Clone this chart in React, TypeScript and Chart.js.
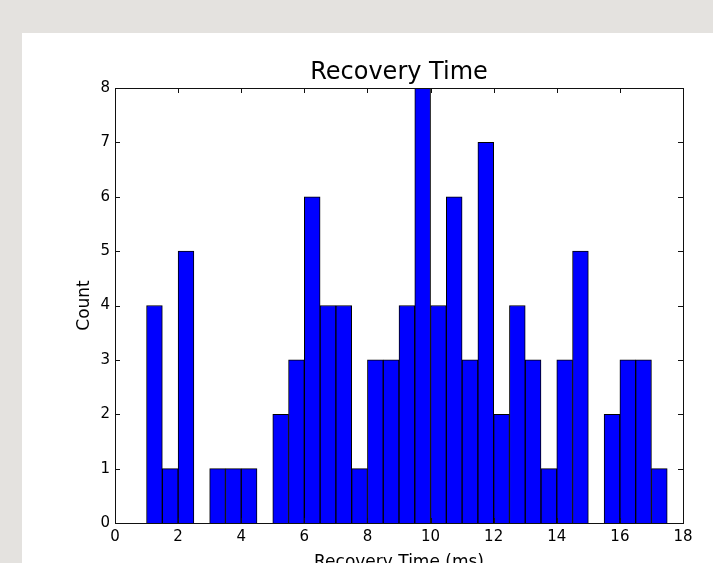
import React, { useEffect, useRef } from "react";
import { Chart, registerables } from "chart.js";

Chart.register(...registerables);

// Histogram bins (bin centers, 0.5 ms wide) and counts
const binCenters = [
  0.25, 0.75, 1.25, 1.75, 2.25, 2.75, 3.25, 3.75, 4.25, 4.75,
  5.25, 5.75, 6.25, 6.75, 7.25, 7.75, 8.25, 8.75, 9.25, 9.75,
  10.25, 10.75, 11.25, 11.75, 12.25, 12.75, 13.25, 13.75, 14.25, 14.75,
  15.25, 15.75, 16.25, 16.75, 17.25,
];
const counts = [
  0, 0, 4, 1, 5, 0, 1, 1, 1, 0,
  2, 3, 6, 4, 4, 1, 3, 3, 4, 8,
  4, 6, 3, 7, 2, 4, 3, 1, 3, 5,
  0, 2, 3, 3, 1,
];
const xTicks = [0, 2, 4, 6, 8, 10, 12, 14, 16, 18];
const yTicks = [0, 1, 2, 3, 4, 5, 6, 7, 8];

const chartTitle = "Recovery Time";
const xLabel = "Recovery Time (ms)";
const yLabel = "Count";

const FONT = "'DejaVu Sans', sans-serif";
const CANVAS_W = 713;
const CANVAS_H = 580;

const framePlugin = {
  id: "mplFrame",
  afterDatasetsDraw(chart: any) {
    const { ctx, chartArea, scales } = chart;
    const { left, right, top, bottom } = chartArea;
    const tl = 5;
    ctx.save();
    ctx.strokeStyle = "#111";
    ctx.lineWidth = 1;
    ctx.beginPath();
    for (const v of xTicks) {
      const px = Math.round(scales.x.getPixelForValue(v)) + 0.5;
      ctx.moveTo(px, bottom);
      ctx.lineTo(px, bottom - tl);
      ctx.moveTo(px, top);
      ctx.lineTo(px, top + tl);
    }
    for (const v of yTicks) {
      const py = Math.round(scales.y.getPixelForValue(v)) + 0.5;
      ctx.moveTo(left, py);
      ctx.lineTo(left + tl, py);
      ctx.moveTo(right, py);
      ctx.lineTo(right - tl, py);
    }
    ctx.stroke();
    ctx.strokeRect(
      Math.round(left) + 0.5,
      Math.round(top) + 0.5,
      Math.round(right - left),
      Math.round(bottom - top)
    );
    ctx.restore();
  },
};

export default function App() {
  const canvasRef = useRef<HTMLCanvasElement | null>(null);

  useEffect(() => {
    if (!canvasRef.current) return;
    const chart = new Chart(canvasRef.current, {
      type: "bar",
      data: {
        datasets: [
          {
            data: binCenters.map((x, i) => ({ x, y: counts[i] })),
            backgroundColor: "#0000ff",
            borderColor: "#000000",
            borderWidth: 1,
            barPercentage: 1,
            categoryPercentage: 1,
          } as any,
        ],
      },
      plugins: [framePlugin],
      options: {
        responsive: false,
        animation: false,
        devicePixelRatio: 1,
        layout: { padding: { left: 0, right: 30, top: 0, bottom: 0 } },
        plugins: {
          legend: { display: false },
          tooltip: { enabled: false },
          title: {
            display: true,
            fullSize: false,
            text: chartTitle,
            color: "#000",
            font: { family: FONT, size: 24, weight: "normal" },
            padding: { top: 58, bottom: 1.2 },
          },
        },
        scales: {
          x: {
            type: "linear",
            min: 0,
            max: 18,
            offset: false,
            grid: { display: false, drawTicks: false, offset: false },
            border: { display: false },
            ticks: {
              stepSize: 2,
              color: "#000",
              font: { family: FONT, size: 15 },
              padding: 5,
              maxRotation: 0,
              autoSkip: false,
            },
            title: {
              display: true,
              text: xLabel,
              color: "#000",
              font: { family: FONT, size: 17 },
              padding: { top: 0, bottom: 7 },
            },
            afterFit: (scale: any) => {
              scale.height = 57;
            },
          },
          y: {
            min: 0,
            max: 8,
            grid: { display: false, drawTicks: false },
            border: { display: false },
            ticks: {
              stepSize: 1,
              color: "#000",
              font: { family: FONT, size: 15 },
              padding: 5,
            },
            title: {
              display: true,
              text: yLabel,
              color: "#000",
              font: { family: FONT, size: 17 },
              padding: { top: 74, bottom: 0 },
            },
            afterFit: (scale: any) => {
              scale.width = 115;
            },
          },
        },
      } as any,
    });
    return () => chart.destroy();
  }, []);

  return (
    <div
      style={{
        position: "fixed",
        left: 0,
        top: 0,
        right: 0,
        bottom: 0,
        overflow: "hidden",
        background: "#e4e2df",
      }}
    >
      <div
        style={{
          position: "absolute",
          left: 22,
          top: 33,
          right: 0,
          bottom: 0,
          background: "#ffffff",
        }}
      />
      <canvas
        ref={canvasRef}
        width={CANVAS_W}
        height={CANVAS_H}
        style={{
          position: "absolute",
          left: 0,
          top: 0,
          width: CANVAS_W,
          height: CANVAS_H,
        }}
      />
    </div>
  );
}
